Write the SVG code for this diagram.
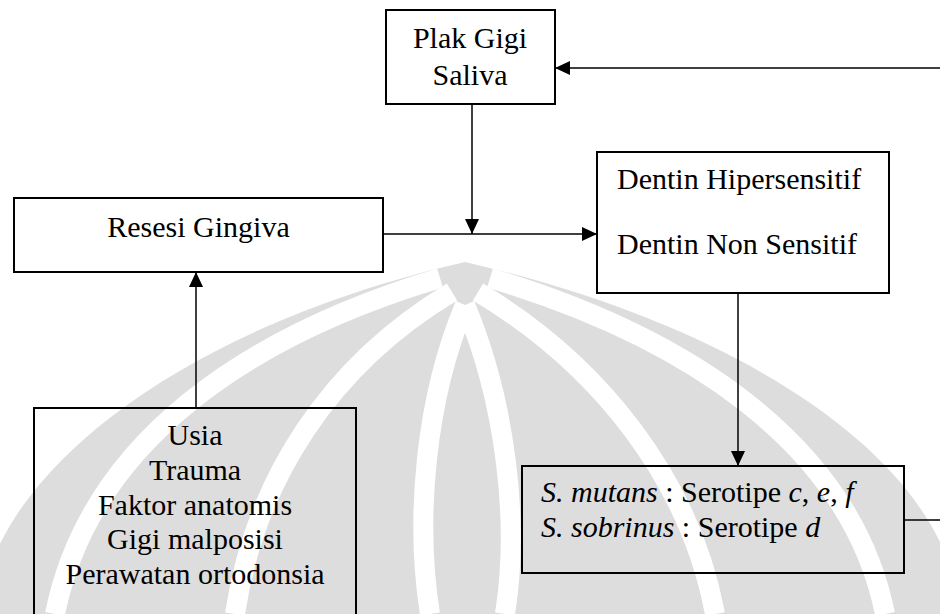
<svg xmlns="http://www.w3.org/2000/svg" width="940" height="614" viewBox="0 0 940 614">
<style>
.box{fill:none;stroke:#000;stroke-width:2}
.con{fill:none;stroke:#000;stroke-width:1.5}
.t{font-size:30px;fill:#000}
.c{text-anchor:middle}
.wm{fill:#dddddd}
.gap{fill:none;stroke:#fff;stroke-width:20}
</style>
<defs>
<marker id="ah" markerUnits="userSpaceOnUse" markerWidth="15" markerHeight="14" refX="15" refY="7" orient="auto">
<path d="M0,0 L15,7 L0,14 Z" fill="#000"/>
</marker>
</defs>
<rect width="940" height="614" fill="#fff"/>
<g id="watermark">
<path class="wm" d="M-20 614 C-10 480 170 330 465 262 C760 330 950 470 960 614 Z"/>
<path class="gap" d="M440 278 C250 335 90 440 55 614"/>
<path class="gap" d="M452 292 C330 365 255 480 235 614"/>
<path class="gap" d="M465 305 C425 400 415 520 430 614"/>
<path class="gap" d="M465 305 C505 400 520 520 505 614"/>
<path class="gap" d="M478 292 C600 365 690 480 715 614"/>
<path class="gap" d="M490 278 C680 335 850 440 885 614"/>
</g>
<g id="connectors">
<line class="con" x1="940" y1="68" x2="555" y2="68" marker-end="url(#ah)"/>
<line class="con" x1="472" y1="104" x2="472" y2="234" marker-end="url(#ah)"/>
<line class="con" x1="383" y1="234" x2="597" y2="234" marker-end="url(#ah)"/>
<line class="con" x1="196" y1="408" x2="196" y2="272" marker-end="url(#ah)"/>
<line class="con" x1="738" y1="293" x2="738" y2="466" marker-end="url(#ah)"/>
<line class="con" x1="904" y1="520" x2="940" y2="520"/>
</g>
<g font-family="'Liberation Serif', 'Times New Roman', Times, 'DejaVu Serif', serif">
<g id="plak">
<rect class="box" x="386" y="10" width="169" height="94"/>
<text class="t c" x="470" y="48">Plak Gigi</text>
<text class="t c" x="470" y="85">Saliva</text>
</g>
<g id="resesi">
<rect class="box" x="14" y="198" width="369" height="74"/>
<text class="t c" x="198.5" y="237">Resesi Gingiva</text>
</g>
<g id="dentin">
<rect class="box" x="597" y="152" width="292" height="141"/>
<text class="t" x="617" y="189">Dentin Hipersensitif</text>
<text class="t" x="617" y="254">Dentin Non Sensitif</text>
</g>
<g id="faktor">
<rect class="box" x="34" y="408" width="322" height="220"/>
<text class="t c" x="195" y="445">Usia</text>
<text class="t c" x="195" y="480">Trauma</text>
<text class="t c" x="195" y="515">Faktor anatomis</text>
<text class="t c" x="195" y="549">Gigi malposisi</text>
<text class="t c" x="195" y="584">Perawatan ortodonsia</text>
</g>
<g id="bakteri">
<rect class="box" x="522" y="466" width="382" height="107"/>
<text class="t" x="541" y="502"><tspan font-style="italic">S. mutans</tspan> : Serotipe <tspan font-style="italic">c</tspan>, <tspan font-style="italic">e</tspan>, <tspan font-style="italic">f</tspan></text>
<text class="t" x="541" y="537"><tspan font-style="italic">S. sobrinus</tspan> : Serotipe <tspan font-style="italic">d</tspan></text>
</g>
</g>
</svg>
